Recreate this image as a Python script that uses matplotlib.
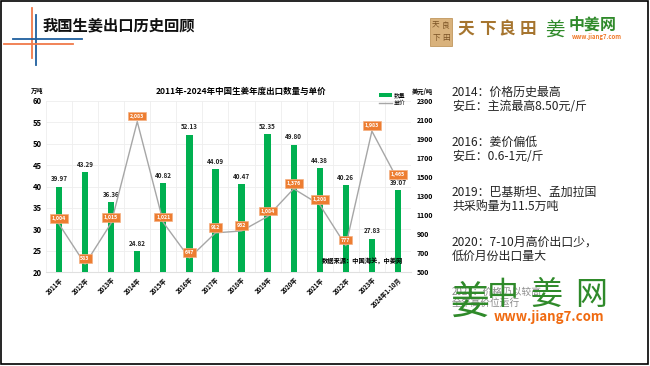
import numpy as np
import matplotlib
matplotlib.use("Agg")
import matplotlib.pyplot as plt
from matplotlib.patches import Rectangle, Patch
from matplotlib.lines import Line2D

plt.rcParams['font.family'] = ['Noto Sans CJK SC', 'DejaVu Sans']

# 数据
years = ['2011年', '2012年', '2013年', '2014年', '2015年', '2016年', '2017年',
         '2018年', '2019年', '2020年', '2021年', '2022年', '2023年', '2024年1-10月']
qty = [39.97, 43.29, 36.36, 24.82, 40.82, 52.13, 44.09, 40.47, 52.35, 49.80,
       44.38, 40.26, 27.83, 39.07]
price = [1004, 583, 1015, 2083, 1021, 647, 912, 932, 1084, 1376, 1208, 777, 1983, 1465]

notes = ['2014：价格历史最高', '安丘：主流最高8.50元/斤',
         '2016：姜价偏低', '安丘：0.6-1元/斤',
         '2019：巴基斯坦、孟加拉国', '共采购量为11.5万吨',
         '2020：7-10月高价出口少，', '低价月份出口量大']

W, H = 650, 366
fig = plt.figure(figsize=(6.5, 3.66), dpi=100)
fig.patch.set_facecolor('white')

def fx(px):
    return px / W

def fy(py):
    return 1 - py / H

# 边框
fig.add_artist(Rectangle((fx(1), fy(364)), fx(647), 363 / H,
                         transform=fig.transFigure, fill=False, ec='black', lw=1.2))

# 左上装饰线
fig.add_artist(Line2D([fx(32), fx(32)], [fy(8), fy(58)], color='#f07a4a', lw=1.3))
fig.add_artist(Line2D([fx(36), fx(36)], [fy(15), fy(65)], color='#1f5f9e', lw=1.3))
fig.add_artist(Line2D([fx(13), fx(82)], [fy(39), fy(39)], color='#1f5f9e', lw=1.3))
fig.add_artist(Line2D([fx(4), fx(73)], [fy(44), fy(44)], color='#f07a4a', lw=1.3))
fig.text(fx(43), fy(25), '我国生姜出口历史回顾', fontsize=11, fontweight='bold',
         va='center', ha='left', color='#111111')

# 右上标志
fig.add_artist(Rectangle((fx(430), fy(46)), fx(22), 28 / H, transform=fig.transFigure,
                         fc='#d9b27c', ec='#b8894a', lw=0.5))
for ch, px, py in [('天', 436, 26), ('良', 446, 26), ('下', 436, 38), ('田', 446, 38)]:
    fig.text(fx(px), fy(py), ch, fontsize=5.5, color='#7a5224', ha='center', va='center')
for ch, px in zip('天下良田', [466, 487, 507, 528]):
    fig.text(fx(px), fy(29), ch, fontsize=12, color='#a6752f', ha='center', va='center',
             fontweight='bold')
fig.text(fx(555), fy(30), '姜', fontsize=14, color='#2f8a2a', ha='center', va='center')
fig.text(fx(569), fy(25), '中姜网', fontsize=11.5, color='#2f8a2a', ha='left', va='center',
         fontweight='bold')
fig.text(fx(572), fy(37), 'www.jiang7.com', fontsize=4.3, color='#f07a2a', ha='left',
         va='center', style='italic', fontweight='bold')

# 主图
ax = fig.add_axes([fx(46), fy(272), fx(365), 171 / H])
x = np.arange(len(years))
ax.bar(x, qty, width=0.24, color='#00b050', zorder=3)
ax.set_ylim(20, 60)
ax.set_xlim(-0.5, len(years) - 0.5)
ax.set_yticks(np.arange(20, 61, 5))
ax.set_xticks(x)
ax.set_xticklabels(years, rotation=45, ha='right', rotation_mode='anchor',
                   fontsize=4.3, fontweight='bold')
ax.set_xticks(np.arange(-0.5, len(years), 1), minor=True)
ax.grid(True, axis='y', color='#eeeeee', lw=0.6, zorder=0)
ax.grid(True, axis='x', which='minor', color='#eeeeee', lw=0.6, zorder=0)
ax.tick_params(axis='both', which='both', length=0)
ax.tick_params(axis='y', labelsize=5.5, pad=3)
ax.tick_params(axis='x', pad=3)
for t in ax.get_yticklabels():
    t.set_fontweight('bold')
for s in ax.spines.values():
    s.set_visible(False)
ax.spines['bottom'].set_visible(True)
ax.spines['bottom'].set_color('#e0e0e0')
ax.set_facecolor('none')

for i, v in enumerate(qty):
    ax.annotate(f'{v:.2f}', (i, v), xytext=(0, 3), textcoords='offset points',
                ha='center', va='bottom', fontsize=4.5, fontweight='bold', color='#222222',
                zorder=5)

ax2 = ax.twinx()
ax2.plot(x, price, color='#a6a6a6', lw=1.0, zorder=4)
ax2.set_ylim(500, 2300)
ax2.set_yticks(np.arange(500, 2301, 200))
ax2.tick_params(axis='y', length=0, labelsize=5, pad=4)
for t in ax2.get_yticklabels():
    t.set_fontweight('bold')
for s in ax2.spines.values():
    s.set_visible(False)
for i, p in enumerate(price):
    ax2.annotate(f'{p:,}', (i, p), xytext=(0, 4), textcoords='offset points',
                 ha='center', va='center', fontsize=3.8, fontweight='bold', color='white',
                 bbox=dict(boxstyle='square,pad=0.35', fc='#ed7d31', ec='#f4b183', lw=0.5),
                 zorder=6)

fig.text(fx(37), fy(91), '万吨', fontsize=4.5, fontweight='bold', ha='center', va='center')
fig.text(fx(422), fy(91), '美元/吨', fontsize=4.5, fontweight='bold', ha='center', va='center')
fig.text(fx(241), fy(91), '2011年-2024年中国生姜年度出口数量与单价', fontsize=6.1,
         fontweight='bold', ha='center', va='center')
fig.text(fx(362), fy(260), '数据来源：中国海关，中姜网', fontsize=4.5, fontweight='bold',
         ha='center', va='center')

handles = [Patch(fc='#00b050', ec='none'), Line2D([0], [0], color='#a6a6a6', lw=1)]
fig.legend(handles, ['数量', '单价'], loc='center left', bbox_to_anchor=(fx(376), fy(99)),
           frameon=False, fontsize=4.2, handlelength=2.2, handleheight=0.8,
           labelspacing=0.4, borderpad=0, handletextpad=0.4)

# 右侧说明
ys = [92, 106, 142, 156, 192, 206, 242, 256]
for t, yy in zip(notes, ys):
    fig.text(fx(452), fy(yy), t, fontsize=8.6, ha='left', va='center', color='#222222')

# 右下被标志遮挡的文字
fig.text(fx(452), fy(292), '2023：价格仍以较高', fontsize=7, ha='left', va='center',
         color='#8a8a8a')
fig.text(fx(452), fy(303), '全年高价位运行', fontsize=7, ha='left', va='center',
         color='#8a8a8a')
# 中姜网标志
fig.text(fx(470), fy(303), '姜', fontsize=28, color='#2f8a2a', ha='center', va='center')
for ch, px in zip('中姜网', [503, 547, 591]):
    fig.text(fx(px), fy(295), ch, fontsize=23, color='#2f8a2a', ha='center', va='center')
fig.text(fx(549), fy(317), 'www.jiang7.com', fontsize=9.5, color='#f06a10', ha='center',
         va='center', style='italic', fontweight='bold')

fig.savefig('out.png', dpi=100)
